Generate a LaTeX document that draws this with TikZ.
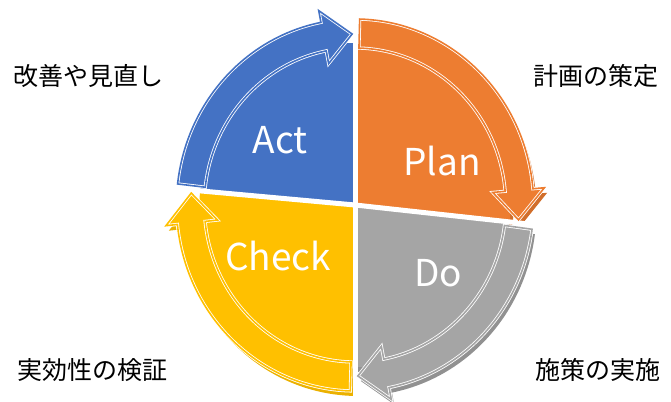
\documentclass[tikz,border=0pt]{standalone}
\usepackage{fontspec}
\setmainfont{Noto Sans CJK JP}
\usetikzlibrary{positioning}

\definecolor{actblue}{HTML}{4472C4}
\definecolor{planorange}{HTML}{ED7D31}
\definecolor{dogray}{HTML}{A5A5A5}
\definecolor{checkyellow}{HTML}{FFC000}

% quarter face and its curved arrow: #1 start angle, #2 end angle
\newcommand{\pdcasector}[2]{(0,0) -- (#1:162) arc[start angle=#1, end angle=#2, radius=162] -- cycle}
\newcommand{\pdcaarrow}[2]{({#1-1.5}:157) arc[start angle={#1-1.5}, end angle={#2+11}, radius=157]
    -- ({#2+11}:144) -- ({#2+1}:171) -- ({#2+11}:198)
    -- ({#2+11}:186) arc[start angle={#2+11}, end angle={#1-1.5}, radius=186] -- cycle}

\begin{document}
\begin{tikzpicture}[x=1pt, y=1pt,
    phase/.style={text=white, font=\fontsize{37}{40}\selectfont, inner sep=0pt},
    step label/.style={text=black, font=\fontsize{25}{28}\selectfont, inner sep=0pt},
    arrowband/.style={draw=white, double=#1, fill=#1, line width=0.8, double distance=1.6},
    gap/.style={white, line width=5}]
    \useasboundingbox (0,0) rectangle (671,401);

    \begin{scope}[shift={(355,196)}, xscale=0.96]
      % thickness of the disc
      \begin{scope}[shift={(3,-5)}]
        \fill[planorange!88!black] \pdcasector{90}{-6};
        \fill[planorange!88!black] \pdcaarrow{90}{-6};
        \fill[dogray!88!black] \pdcasector{-6}{-90};
        \fill[dogray!88!black] \pdcaarrow{-6}{-90};
        \fill[checkyellow!92!black] \pdcasector{270}{175};
        \fill[checkyellow!92!black] \pdcaarrow{270}{175};
      \end{scope}
      % faces
      \fill[actblue] \pdcasector{175}{90};
      \fill[planorange] \pdcasector{90}{-6};
      \fill[dogray] \pdcasector{-6}{-90};
      \fill[checkyellow] \pdcasector{270}{175};
      \draw[gap] (0,0) -- (90:205);
      \draw[gap] (0,0) -- (-6:205);
      \draw[gap] (0,0) -- (270:205);
      \draw[gap] (0,0) -- (175:205);
      \path[arrowband=actblue] \pdcaarrow{175}{90};
      \path[arrowband=planorange] \pdcaarrow{90}{-6};
      \path[arrowband=dogray] \pdcaarrow{-6}{-90};
      \path[arrowband=checkyellow] \pdcaarrow{270}{175};
    \end{scope}

    \node[phase] (act) at (280,261) {Act};
    \node[phase] (plan) at (442,240) {Plan};
    \node[phase] (check) at (278,145) {Check};
    \node[phase] (do) at (438,128) {Do};

    \node[step label] (actstep) at (88,325) {改善や見直し};
    \node[step label] (planstep) at (596,325) {計画の策定};
    \node[step label] (checkstep) at (92,31) {実効性の検証};
    \node[step label] (dostep) at (598,31) {施策の実施};
\end{tikzpicture}
\end{document}
